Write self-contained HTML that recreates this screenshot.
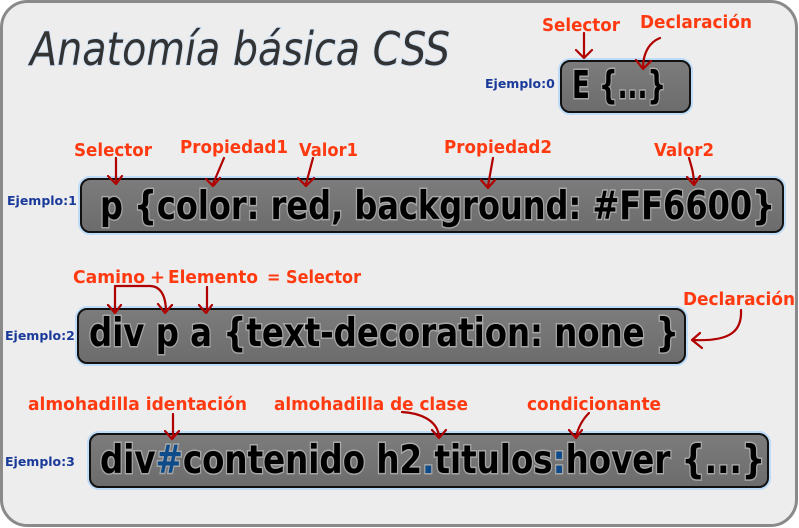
<!DOCTYPE html>
<html><head><meta charset="utf-8"><style>
html,body{margin:0;padding:0;background:#fff;width:799px;height:528px;overflow:hidden}
svg text{font-family:"DejaVu Sans","Liberation Sans",sans-serif}
.code{font-weight:bold;fill:#000;stroke:#d8d8d8;stroke-width:3px;paint-order:stroke;stroke-opacity:.5}
.lab{font-weight:bold;fill:#ff3a10;font-size:18px}
.ej{font-weight:bold;fill:#1a3a9a;font-size:12.5px}
.ar{fill:none;stroke:#b00000;stroke-width:2.2;stroke-linecap:round;stroke-linejoin:round}
.box{fill:url(#g);stroke:#111;stroke-width:2}
.glow{fill:none;stroke:#9fd0ff;stroke-width:6;opacity:.6}
</style></head><body>
<svg width="799" height="528" viewBox="0 0 799 528" xmlns="http://www.w3.org/2000/svg">
<defs><linearGradient id="g" x1="0" y1="0" x2="0" y2="1"><stop offset="0" stop-color="#7c7c7c"/><stop offset="1" stop-color="#6c6c6c"/></linearGradient></defs>
<rect x="1.5" y="1.5" width="795" height="524" rx="26" fill="#ededed" stroke="#8a8a8a" stroke-width="3"/>
<text x="30" y="65" font-size="46" font-style="italic" fill="#333" stroke="#bfe0ff" stroke-width="2" paint-order="stroke" stroke-opacity=".6" textLength="420" lengthAdjust="spacingAndGlyphs">Anatomía básica CSS</text>

<!-- Ejemplo 0 -->
<rect class="glow" x="561" y="61" width="129" height="51" rx="9"/>
<rect class="box" x="561" y="61" width="129" height="51" rx="9"/>
<text class="code" x="572" y="98" font-size="38" textLength="94" lengthAdjust="spacingAndGlyphs">E {...}</text>
<text class="ej" x="485" y="88">Ejemplo:0</text>
<text class="lab" x="542" y="31" textLength="78" lengthAdjust="spacingAndGlyphs">Selector</text>
<text class="lab" x="640" y="28" textLength="112" lengthAdjust="spacingAndGlyphs">Declaración</text>
<path class="ar" d="M584 33 V58 M576 50 L584 58 L592 50"/>
<path class="ar" d="M660 38 C650 42 643 52 643 68 M636 60 L643 69 L651 61"/>

<!-- Ejemplo 1 -->
<rect class="glow" x="81" y="179" width="702" height="53" rx="9"/>
<rect class="box" x="81" y="179" width="702" height="53" rx="9"/>
<text class="code" x="100" y="219" font-size="39" textLength="675" lengthAdjust="spacingAndGlyphs">p {color: red, background: #FF6600}</text>
<text class="ej" x="7" y="205">Ejemplo:1</text>
<text class="lab" x="74" y="156" textLength="78" lengthAdjust="spacingAndGlyphs">Selector</text>
<text class="lab" x="180" y="153" textLength="108" lengthAdjust="spacingAndGlyphs">Propiedad1</text>
<text class="lab" x="299" y="156" textLength="59" lengthAdjust="spacingAndGlyphs">Valor1</text>
<text class="lab" x="444" y="153" textLength="108" lengthAdjust="spacingAndGlyphs">Propiedad2</text>
<text class="lab" x="654" y="156" textLength="60" lengthAdjust="spacingAndGlyphs">Valor2</text>
<path class="ar" d="M116 158 V184 M108 176 L116 184 L122 176"/>
<path class="ar" d="M224 158 L213 184 M206 179 L213 186 L220 178"/>
<path class="ar" d="M313 158 L306 184 M298 178 L306 186 L314 178"/>
<path class="ar" d="M493 158 L488 186 M481 180 L488 188 L495 180"/>
<path class="ar" d="M689 158 C692 168 694 175 694 184 M687 177 L694 185 L700 176"/>

<!-- Ejemplo 2 -->
<rect class="glow" x="78" y="309" width="607" height="54" rx="9"/>
<rect class="box" x="78" y="309" width="607" height="54" rx="9"/>
<text class="code" x="89" y="346" font-size="39" textLength="590" lengthAdjust="spacingAndGlyphs">div p a {text-decoration: none }</text>
<text class="ej" x="5" y="340">Ejemplo:2</text>
<text class="lab" x="73" y="283" textLength="72" lengthAdjust="spacingAndGlyphs">Camino</text>
<text class="lab" x="150" y="283">+</text>
<text class="lab" x="168" y="283" textLength="90" lengthAdjust="spacingAndGlyphs">Elemento</text>
<text class="lab" x="267" y="283" textLength="94" lengthAdjust="spacingAndGlyphs">= Selector</text>
<text class="lab" x="683" y="305" textLength="112" lengthAdjust="spacingAndGlyphs">Declaración</text>
<path class="ar" d="M115 313 V286 H150 C160 286 166 295 166 312 M158 304 L165 313 L172 305 M108 305 L115 313 L121 305"/>
<path class="ar" d="M207 287 V312 M199 305 L206 313 L212 305"/>
<path class="ar" d="M741 310 C742 330 732 342 692 340 M700 333 L692 340 L702 348"/>

<!-- Ejemplo 3 -->
<rect class="glow" x="90" y="434" width="678" height="53" rx="9"/>
<rect class="box" x="90" y="434" width="678" height="53" rx="9"/>
<text class="code" x="100" y="473" font-size="39" textLength="665" lengthAdjust="spacingAndGlyphs">div<tspan fill="#0d4b8a">#</tspan>contenido h2<tspan fill="#0d4b8a">.</tspan>titulos<tspan fill="#0d4b8a">:</tspan>hover {...}</text>
<text class="ej" x="5" y="466">Ejemplo:3</text>
<text class="lab" x="28" y="410" textLength="219" lengthAdjust="spacingAndGlyphs">almohadilla identación</text>
<text class="lab" x="274" y="410" textLength="194" lengthAdjust="spacingAndGlyphs">almohadilla de clase</text>
<text class="lab" x="527" y="410" textLength="134" lengthAdjust="spacingAndGlyphs">condicionante</text>
<path class="ar" d="M173 414 V438 M165 431 L172 439 L179 431"/>
<path class="ar" d="M402 412 C420 413 437 420 439 436 M432 430 L439 438 L446 430"/>
<path class="ar" d="M589 413 C582 420 578 428 576 437 M569 430 L576 438 L582 430"/>
</svg>
</body></html>
